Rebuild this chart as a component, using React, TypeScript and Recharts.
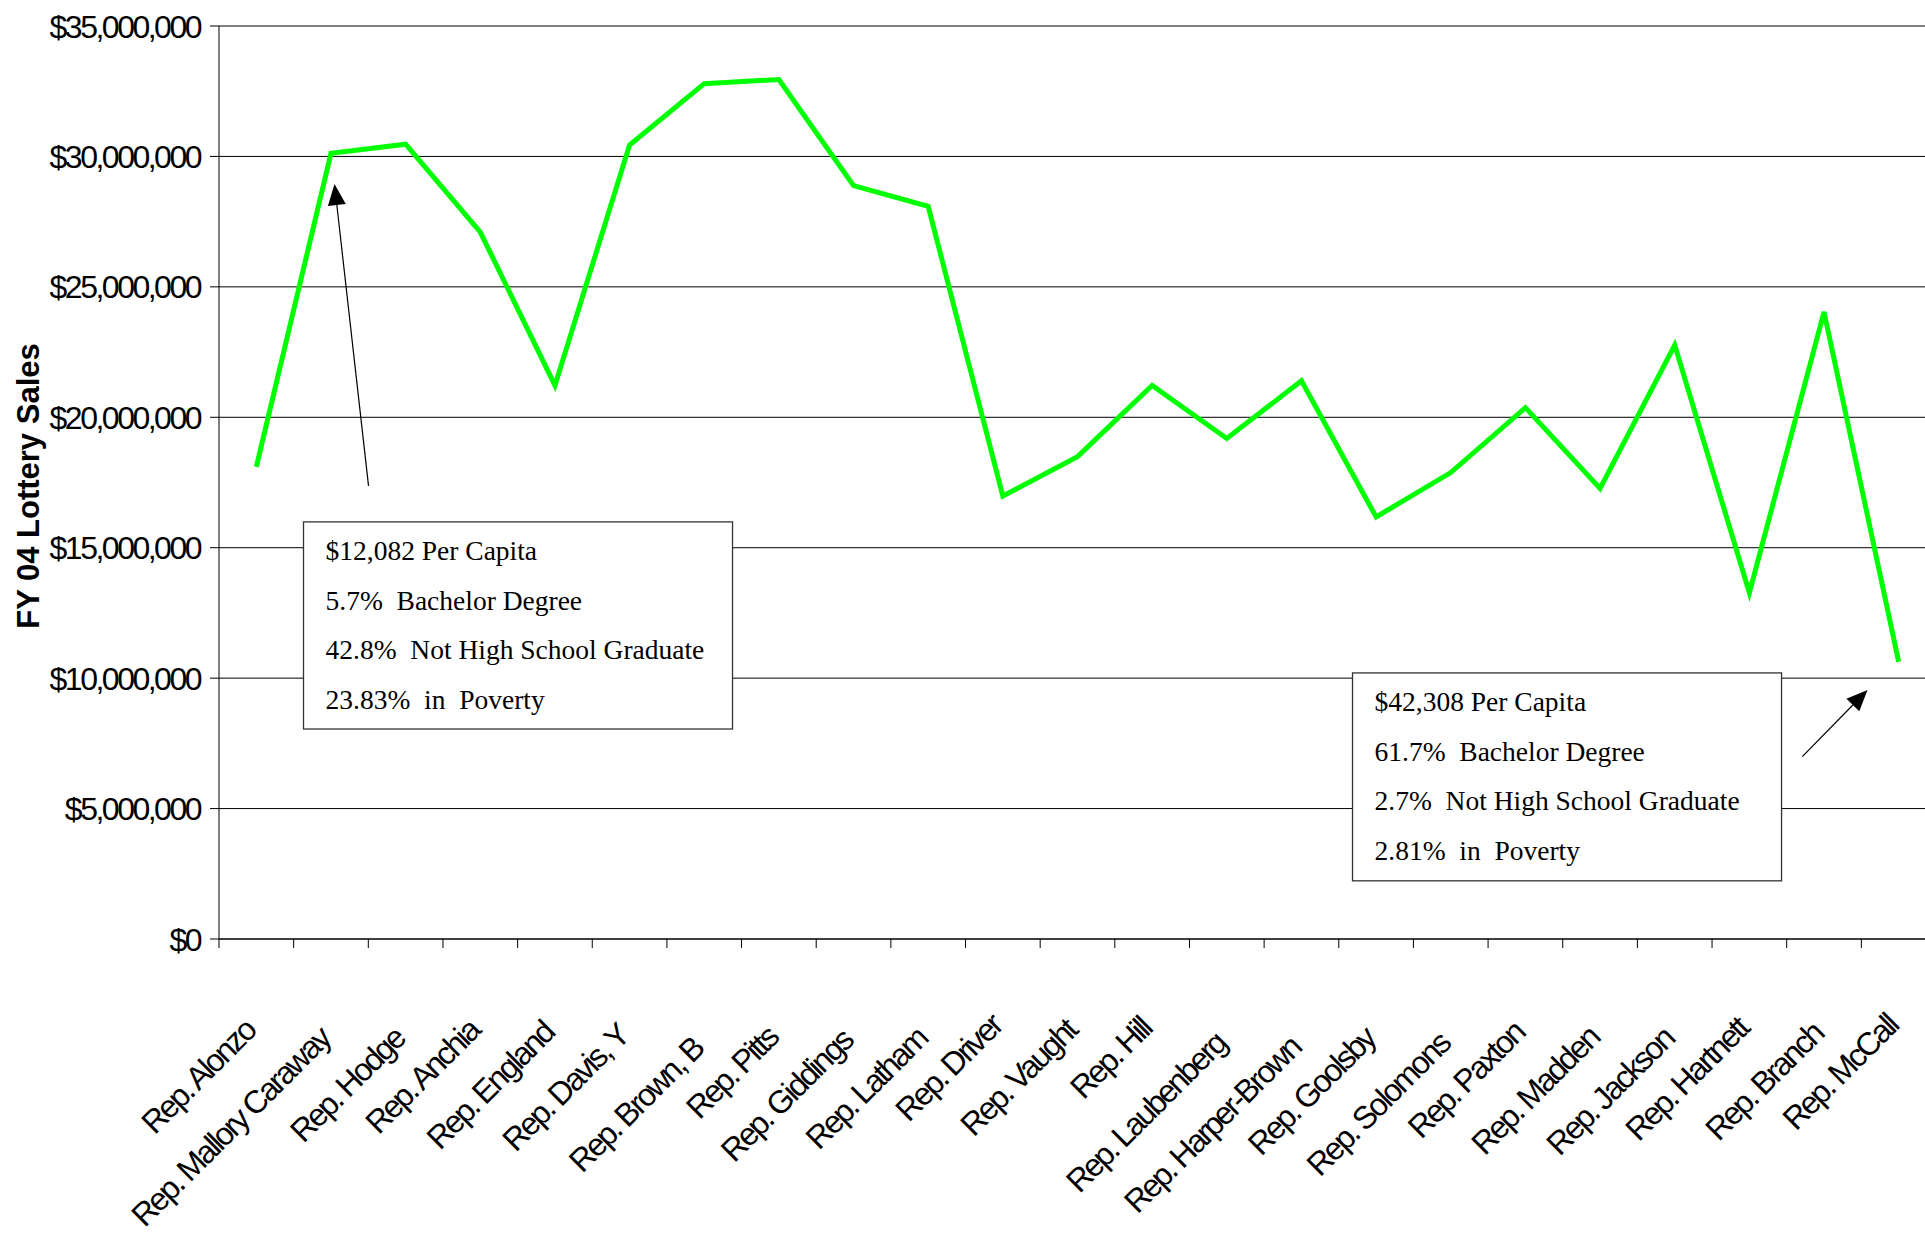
import React from 'react';
import { LineChart, Line, XAxis, YAxis, CartesianGrid, ReferenceLine, ReferenceArea } from 'recharts';

// ---------- data ----------
const reps = [
  'Rep. Alonzo', 'Rep. Mallory Caraway', 'Rep. Hodge', 'Rep. Anchia', 'Rep. England',
  'Rep. Davis, Y', 'Rep. Brown, B', 'Rep. Pitts', 'Rep. Giddings', 'Rep. Latham',
  'Rep. Driver', 'Rep. Vaught', 'Rep. Hill', 'Rep. Laubenberg', 'Rep. Harper-Brown',
  'Rep. Goolsby', 'Rep. Solomons', 'Rep. Paxton', 'Rep. Madden', 'Rep. Jackson',
  'Rep. Hartnett', 'Rep. Branch', 'Rep. McCall',
];

const lotterySales = [
  18100000, 30120000, 30470000, 27100000, 21220000,
  30440000, 32790000, 32950000, 28880000, 28090000,
  16980000, 18490000, 21220000, 19190000, 21400000,
  16180000, 17880000, 20370000, 17270000, 22770000,
  13270000, 24040000, 10630000,
];

const yTicks = [0, 5000000, 10000000, 15000000, 20000000, 25000000, 30000000, 35000000];

const leftNote = [
  '$12,082 Per Capita',
  '5.7%  Bachelor Degree',
  '42.8%  Not High School Graduate',
  '23.83%  in  Poverty',
];
const rightNote = [
  '$42,308 Per Capita',
  '61.7%  Bachelor Degree',
  '2.7%  Not High School Graduate',
  '2.81%  in  Poverty',
];

// ---------- layout / style ----------
const CHART_W = 1936;
const CHART_H = 1236;
const Y_W = 219;
const X_H = 297;
const TOP = 26;
const PLOT_W = CHART_W - Y_W;
const BAND = PLOT_W / reps.length;
const SANS = '"Liberation Sans", Arial, sans-serif';
const SERIF = '"Liberation Serif", "Times New Roman", serif';

// small vertical nudges of the rotated category labels (px)
const labelNudge = [0, 8, 8, 0, 2, 5, 18, 7, 10, 8, -5, 0, -2, 13, 17, 8, 13, 2, 7, 8, -2, 3, -5];

// annotation placement in data coordinates
const leftBox = { x1: 0.632, x2: 6.379, y1: 8050000, y2: 15990000 };
const rightBox = { x1: 14.684, x2: 20.431, y1: 2230000, y2: 10200000 };
const leftArrow = [{ x: 1.503, y: 17370000 }, { x: 1.047, y: 28940000 }];
const rightArrow = [{ x: 20.709, y: 6990000 }, { x: 21.583, y: 9545000 }];

const rows = reps.map((name, i) => ({ idx: i, name, sales: lotterySales[i] }));
const boundaries = [...reps.map((_, i) => i - 0.5), reps.length - 0.5];

const fmtMoney = (v: number) => '$' + v.toLocaleString('en-US');

const MoneyTick = (props: any) => {
  const { x, y, payload } = props;
  return (
    <text x={x} y={y} dy={11.5} textAnchor="end" fill="#000"
      style={{ fontFamily: SANS, fontSize: 32, letterSpacing: '-2.5px' }}>
      {fmtMoney(payload.value)}
    </text>
  );
};

const CatTick = (props: any) => {
  const { x, y, payload } = props;
  const i = Math.round(payload.value + 0.5);
  if (i < 0 || i >= reps.length) return <g />;
  const ax = x + BAND / 2 + 1;
  const ay = y + 85 + labelNudge[i];
  return (
    <text x={ax} y={ay} transform={`rotate(-45, ${ax}, ${ay})`} textAnchor="end" fill="#000"
      style={{ fontFamily: SANS, fontSize: 32, letterSpacing: '-2.5px' }}>
      {reps[i]}
    </text>
  );
};

const YTitle = (props: any) => {
  const vb = props.viewBox || { x: 0, y: TOP, height: CHART_H - TOP - X_H };
  const bx = vb.x + 38.5;
  const by = vb.y + vb.height / 2 + 3.5;
  return (
    <text x={bx} y={by} transform={`rotate(-90, ${bx}, ${by})`} textAnchor="middle" fill="#000"
      style={{ fontFamily: SANS, fontSize: 31, fontWeight: 'bold' }}>
      FY 04 Lottery Sales
    </text>
  );
};

const makeNote = (lines: string[]) => (p: any) => {
  const { x, y, width, height } = p;
  return (
    <g>
      <rect x={x} y={y} width={width} height={height} fill="#fff" stroke="#333" strokeWidth={1.3} />
      {lines.map((t, j) => (
        <text key={j} x={x + 22} y={y + 38 + j * 49.7} fill="#000" xmlSpace="preserve"
          style={{ fontFamily: SERIF, fontSize: 27.5, whiteSpace: 'pre' }}>
          {t}
        </text>
      ))}
    </g>
  );
};

const ArrowShape = (p: any) => {
  const { x1, y1, x2, y2 } = p;
  const dx = x2 - x1;
  const dy = y2 - y1;
  const len = Math.sqrt(dx * dx + dy * dy) || 1;
  const ux = dx / len;
  const uy = dy / len;
  const hl = 21;
  const hw = 9;
  const bx = x2 - ux * hl;
  const by = y2 - uy * hl;
  const pts = `${x2},${y2} ${bx - uy * hw},${by + ux * hw} ${bx + uy * hw},${by - ux * hw}`;
  return (
    <g>
      <line x1={x1} y1={y1} x2={bx} y2={by} stroke="#000" strokeWidth={1.2} />
      <polygon points={pts} fill="#000" />
    </g>
  );
};

export default function App() {
  return (
    <div style={{ position: 'fixed', left: 0, top: 0, width: 1925, height: 1236, overflow: 'hidden', background: '#fff' }}>
      <LineChart width={CHART_W} height={CHART_H} data={rows} margin={{ top: TOP, right: 0, bottom: 0, left: 0 }}>
        <CartesianGrid vertical={false} stroke="#000" strokeWidth={1} />
        <XAxis
          type="number"
          dataKey="idx"
          domain={[-0.5, reps.length - 0.5]}
          ticks={boundaries}
          interval={0}
          height={X_H}
          tickSize={9}
          tickMargin={0}
          tickLine={{ stroke: '#000', strokeWidth: 1 }}
          axisLine={{ stroke: '#000', strokeWidth: 1 }}
          tick={<CatTick />}
        />
        <YAxis
          type="number"
          domain={[0, 35000000]}
          ticks={yTicks}
          interval={0}
          width={Y_W}
          tickSize={9}
          tickMargin={10}
          tickLine={{ stroke: '#000', strokeWidth: 1 }}
          axisLine={{ stroke: '#000', strokeWidth: 1 }}
          tick={<MoneyTick />}
          label={{ content: (p: any) => <YTitle {...p} /> }}
        />
        <ReferenceArea x1={leftBox.x1} x2={leftBox.x2} y1={leftBox.y1} y2={leftBox.y2} shape={makeNote(leftNote)} />
        <ReferenceArea x1={rightBox.x1} x2={rightBox.x2} y1={rightBox.y1} y2={rightBox.y2} shape={makeNote(rightNote)} />
        <ReferenceLine segment={leftArrow} shape={ArrowShape} />
        <ReferenceLine segment={rightArrow} shape={ArrowShape} />
        <Line
          type="linear"
          dataKey="sales"
          stroke="#00FF00"
          strokeWidth={5}
          dot={false}
          activeDot={false}
          isAnimationActive={false}
        />
      </LineChart>
    </div>
  );
}
